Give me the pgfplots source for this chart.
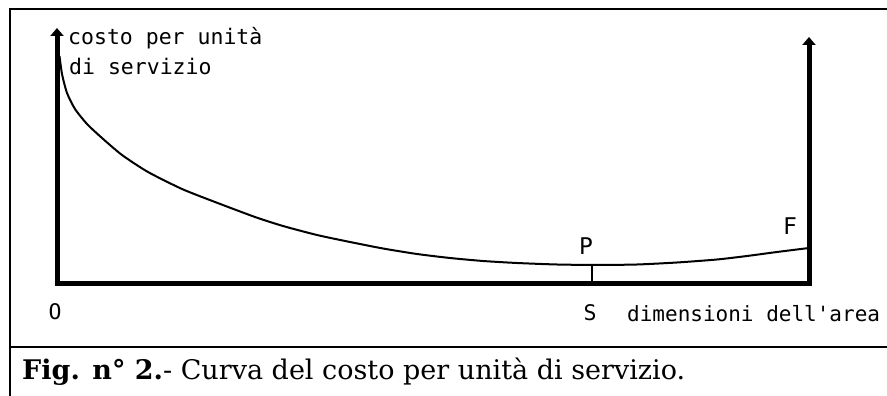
\documentclass[border=0pt]{standalone}
\usepackage{fontspec}
\setmainfont{DejaVu Serif}
\newfontfamily\capf{DejaVu Serif}
\newfontfamily\lab{DejaVu Sans Mono}
\usepackage{pgfplots}
\pgfplotsset{compat=1.18}
\usetikzlibrary{arrows.meta}
\begin{document}
\begin{tikzpicture}[x=1pt,y=1pt]
\begin{axis}[at={(0,0)},anchor=south west, scale only axis, width=887pt, height=396pt,
  xmin=-57, xmax=830, ymin=-112, ymax=284, hide axis, clip=false]
% frame
\draw[line width=2.5pt] (axis cs:-47,-112) -- (axis cs:-47,275) -- (axis cs:830,275);
\draw[line width=2.5pt] (axis cs:-47,-63) -- (axis cs:830,-63);
% axes
\draw[line width=5pt, line join=miter,
  {Triangle[length=8pt,width=13pt]}-{Triangle[length=8pt,width=13pt]}]
  (axis cs:0,256) -- (axis cs:0,0) -- (axis cs:752,0) -- (axis cs:752,247);
\draw[line width=2pt] (axis cs:535,0) -- (axis cs:535,19);
% curve
\addplot[line width=2pt, smooth, tension=0.4] coordinates {
(2.5,228) (5,210) (10,191) (18,175) (30,160) (45,146) (65,129) (91,112) (125,95)
(158,82) (198,67) (226,58) (260,49) (293,42) (326,35.5) (360,30) (393,26) (426,23)
(460,21) (500,19.5) (540,19) (580,19.5) (620,21.5) (660,24.5) (690,28) (720,32) (752,36)};
% labels
\node[anchor=base west, inner sep=0pt] at (axis cs:11,239) {\lab\fontsize{21.5}{25}\selectfont costo per unità};
\node[anchor=base west, inner sep=0pt] at (axis cs:12,209) {\lab\fontsize{21.5}{25}\selectfont di servizio};
\node[anchor=base, inner sep=0pt] at (axis cs:529,29) {\lab\fontsize{23}{25}\selectfont P};
\node[anchor=base, inner sep=0pt] at (axis cs:733,49) {\lab\fontsize{23}{25}\selectfont F};
\node[anchor=base, inner sep=0pt] at (axis cs:-2,-36) {\lab\fontsize{21.5}{25}\selectfont O};
\node[anchor=base, inner sep=0pt] at (axis cs:533,-37) {\lab\fontsize{21.5}{25}\selectfont S};
\node[anchor=base west, inner sep=0pt] at (axis cs:570,-38) {\lab\fontsize{21}{25}\selectfont dimensioni dell'area};
\node[anchor=base west, inner sep=0pt] at (axis cs:-35,-96) {\capf\fontsize{27}{31}\selectfont\textbf{Fig. n° 2.}- Curva del costo per unità di servizio.};
\end{axis}
\pgfresetboundingbox
\path (0,0) rectangle (887pt,396pt);
\end{tikzpicture}
\end{document}
